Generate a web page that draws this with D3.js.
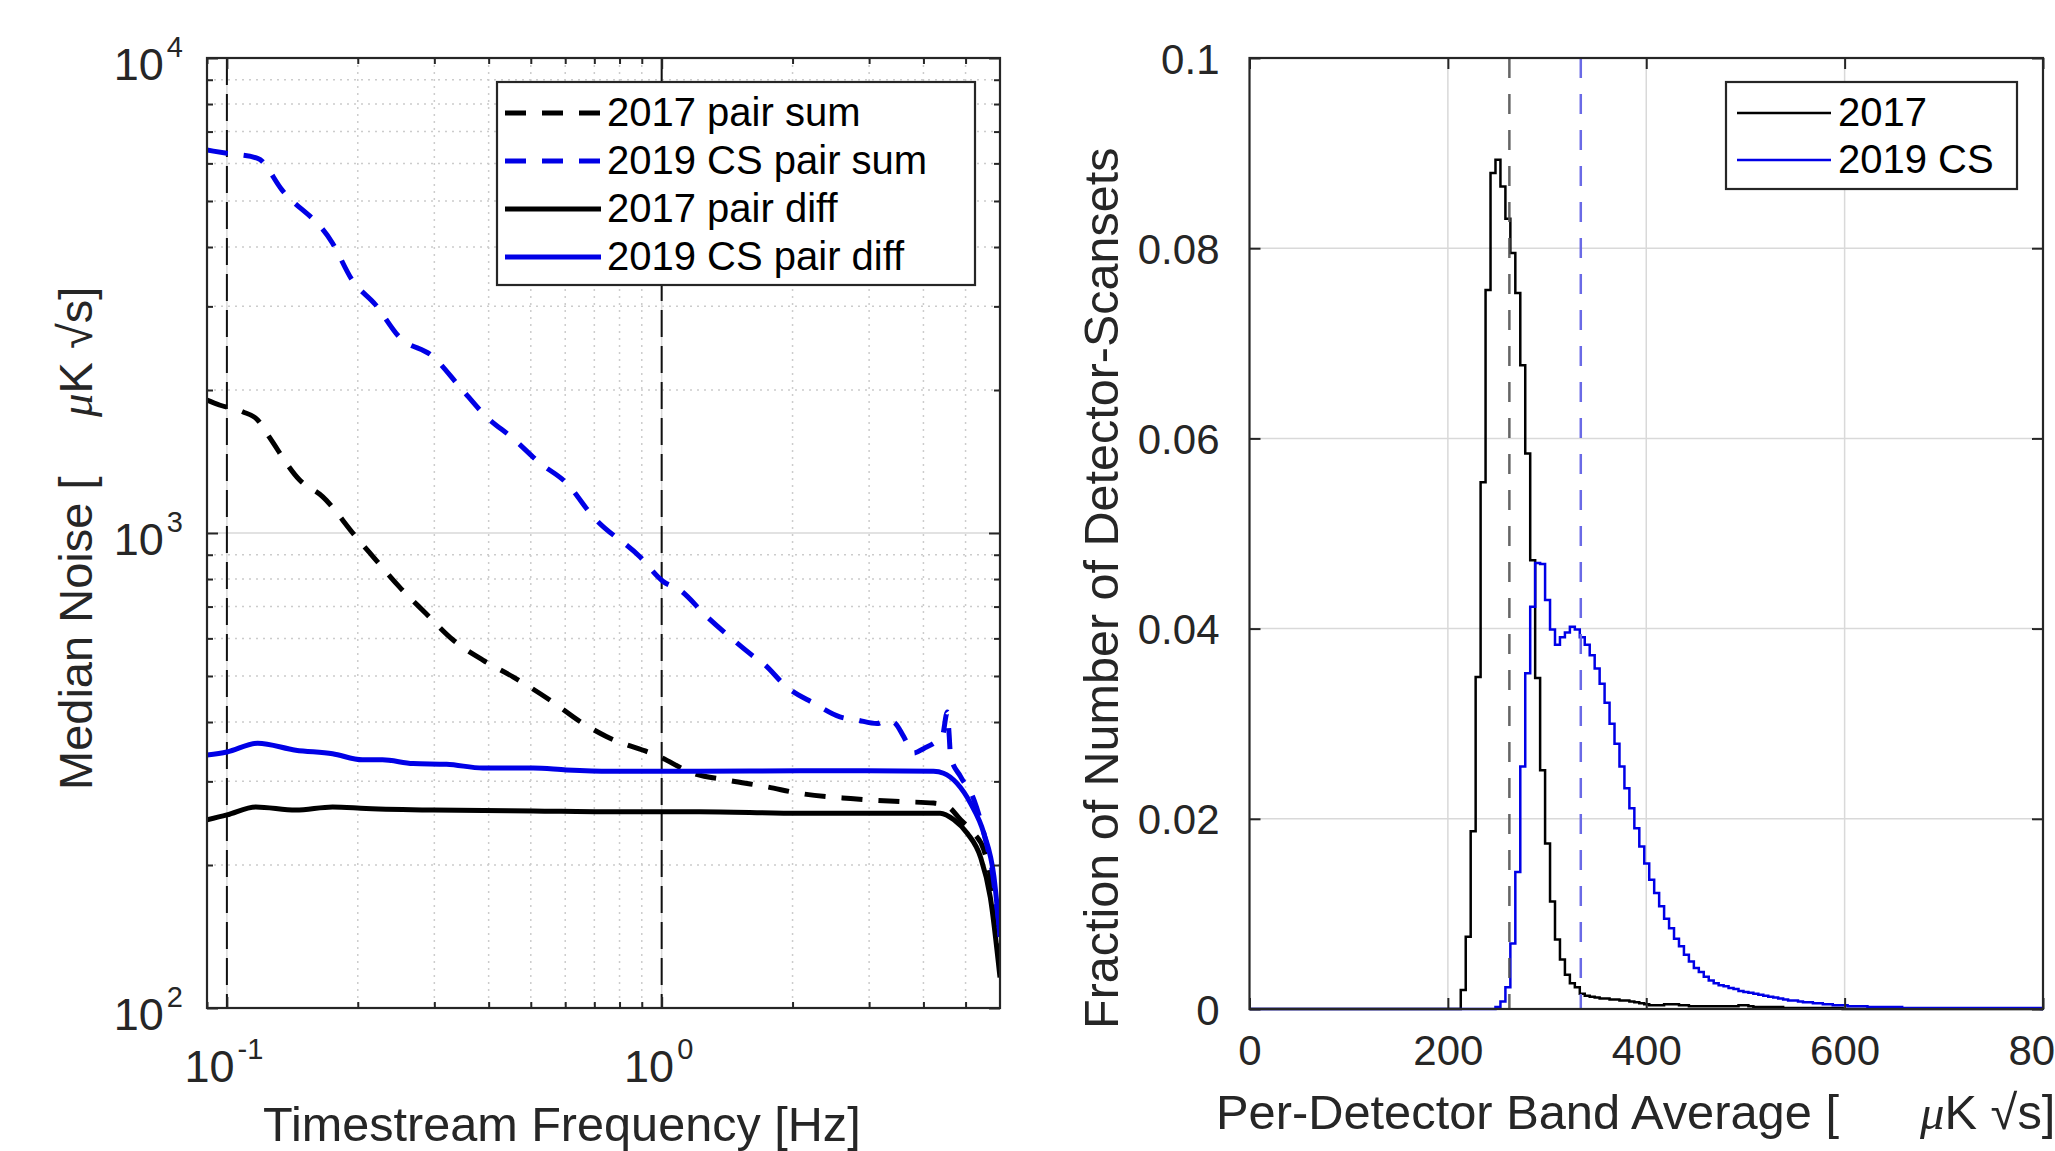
<!DOCTYPE html>
<html><head><meta charset="utf-8">
<script src="https://cdn.jsdelivr.net/npm/d3@7"></script>
<style>
body{margin:0;background:#fff}
svg{display:block}
text{font-family:"Liberation Sans",Arial,Helvetica,sans-serif}
</style>
</head><body>
<script>
// ---------------- DATA: left panel (median noise spectra) ----------------
const freqDomain = [0.09, 6];
const noiseDomain = [100, 10000];
const freqMarkers = [0.1, 1];

const sum2017Freq  = [0.09,0.0961,0.1087,0.1177,0.125,0.147,0.166,0.198,0.217,0.249,0.287,0.331,0.388,0.455,0.553,0.66,0.746,0.99,1.18,1.41,1.75,2.08,2.72,3.54,4.22,4.54,4.87,5.23,5.51,5.81,5.97];
const sum2017Noise = [1905,1860,1800,1730,1595,1293,1193,982,891,771,677,596,540,498,445,397,373,338,312,302,292,283,276,272,270,266,249,233,215,169,132];

const sum2019Freq  = [0.09,0.1,0.1177,0.134,0.175,0.194,0.22,0.249,0.298,0.343,0.395,0.455,0.525,0.604,0.696,0.891,1.009,1.1,1.27,1.46,1.63,1.71,1.94,2.24,2.57,2.81,3.13,3.3,3.45,3.6,3.8,4.01,4.23,4.42,4.54,4.58,4.62,4.87,5.23,5.51,5.81,5.97];
const sum2019Noise = [6400,6300,6150,5270,4075,3412,3020,2588,2350,2033,1758,1582,1403,1274,1082,891,790,759,667,596,549,532,474,438,410,404,397,404,397,373,344,352,361,373,420,380,338,307,274,233,183,144];

const diff2017Freq  = [0.09,0.1,0.1166,0.144,0.175,0.209,0.298,0.506,0.76,1.22,2.08,3.54,4.37,4.7,5.05,5.41,5.7,6.0];
const diff2017Noise = [249,255,265,261,265,263,261,260,259,259,257,257,257,249,233,208,171,116];

const diff2019Freq  = [0.09,0.1,0.1177,0.144,0.175,0.205,0.228,0.268,0.32,0.388,0.506,0.604,0.76,1.22,2.08,2.97,4.22,4.45,4.78,5.13,5.51,5.81,6.0];
const diff2019Noise = [341,346,361,349,343,333,333,327,326,320,320,317,315,315,316,316,315,312,297,270,233,189,141];

const leftLegend = ["2017 pair sum","2019 CS pair sum","2017 pair diff","2019 CS pair diff"];

// ---------------- DATA: right panel (histograms) ----------------
const histRange = [0, 800];
const fracDomain = [0, 0.1];
const histXTicks = [0, 200, 400, 600, 800];
const histYTicks = [0, 0.02, 0.04, 0.06, 0.08, 0.1];
const binWidth = 5;
const hist2017Start = 213;
const hist2017 = [0.0020,0.0076,0.0187,0.0349,0.0554,0.0756,0.0879,0.0893,0.0865,0.0831,0.0795,0.0753,0.0677,0.0584,0.0472,0.0348,0.0251,0.0174,0.0113,0.0073,0.0052,0.0036,0.0027,0.0023,0.0016,0.0014,0.0013,0.0012,0.0011,0.0011,0.0010,0.0010,0.0009,0.0009,0.0008,0.0007,0.0006,0.0005,0.0004,0.0004,0.0004,0.0005,0.0005,0.0005,0.0004,0.0004,0.0003,0.0003,0.0003,0.0003,0.0003,0.0003,0.0003,0.0003,0.0003,0.0003,0.0004,0.0004,0.0003,0.0002,0.0002,0.0002,0.0002,0.0002,0.0002,0.0001,0.0001,0.0001,0.0001,0.0001,0.0001,0.0001,0.0001,0.0001,0.0001,0.0001,0.0001];
const hist2019Start = 248;
const hist2019 = [0.0002,0.0008,0.0023,0.0069,0.0144,0.0255,0.0353,0.0423,0.0469,0.0468,0.0430,0.0399,0.0383,0.0391,0.0396,0.0402,0.0399,0.0391,0.0383,0.0372,0.0358,0.0342,0.0322,0.0300,0.0279,0.0255,0.0232,0.0211,0.0190,0.0171,0.0153,0.0136,0.0122,0.0108,0.0095,0.0085,0.0074,0.0066,0.0057,0.0050,0.0043,0.0039,0.0034,0.0030,0.0027,0.0025,0.0024,0.0022,0.0021,0.0019,0.0018,0.0017,0.0016,0.0015,0.0014,0.0013,0.0012,0.0011,0.0010,0.0009,0.0009,0.0008,0.0007,0.0007,0.0006,0.0006,0.0005,0.0005,0.0004,0.0004,0.0004,0.0003,0.0003,0.0003,0.0003,0.0002,0.0002,0.0002,0.0002,0.0002,0.0002,0.0002,0.0001,0.0001,0.0001,0.0001,0.0001,0.0001,0.0001,0.0001,0.0001,0.0001,0.0001,0.0001,0.0001,0.0001,0.0001,0.0001,0.0001,0.0001,0.0001,0.0001,0.0001,0.0001,0.0001,0.0001,0.0001,0.0001,0.0001,0.0001];
const median2017 = 262;
const median2019 = 334;
const rightLegend = ["2017","2019 CS"];

// ---------------- STYLE ----------------
const W = 2055, H = 1151;
const BLUE = "#0000e6", BLACK = "#000";
const AX = "#262626", GRID = "#d9d9d9", MINOR = "#cccccc";
const TICKFS = 42;

const svg = d3.select("body").append("svg").attr("width", W).attr("height", H);
svg.append("rect").attr("width", W).attr("height", H).attr("fill", "#fff");

// ================= LEFT PANEL =================
const L = {x0: 207, x1: 1000, y0: 58, y1: 1008};
const xL = d3.scaleLog().domain(freqDomain).range([L.x0, L.x1]);
const yL = d3.scaleLog().domain(noiseDomain).range([L.y1, L.y0]);
const isPow = v => Math.abs(Math.log10(v) - Math.round(Math.log10(v))) < 1e-9;
const xTicksAll = xL.ticks();
const yTicksAll = yL.ticks();
const xMajor = xTicksAll.filter(isPow), xMinor = xTicksAll.filter(v => !isPow(v));
const yMajor = yTicksAll.filter(isPow), yMinor = yTicksAll.filter(v => !isPow(v));

const gL = svg.append("g");
// minor grid (dotted)
gL.selectAll(".mgx").data(xMinor.filter(v => xL(v) > L.x0 + 1 && xL(v) < L.x1 - 1)).join("line")
  .attr("x1", d => xL(d)).attr("x2", d => xL(d)).attr("y1", L.y0).attr("y2", L.y1)
  .attr("stroke", MINOR).attr("stroke-width", 1.5).attr("stroke-dasharray", "2,5");
gL.selectAll(".mgy").data(yMinor).join("line")
  .attr("x1", L.x0).attr("x2", L.x1).attr("y1", d => yL(d)).attr("y2", d => yL(d))
  .attr("stroke", MINOR).attr("stroke-width", 1.5).attr("stroke-dasharray", "2,5");
// major grid
gL.selectAll(".Mgx").data(xMajor).join("line")
  .attr("x1", d => xL(d)).attr("x2", d => xL(d)).attr("y1", L.y0).attr("y2", L.y1)
  .attr("stroke", GRID).attr("stroke-width", 1.5);
gL.selectAll(".Mgy").data(yMajor.filter(v => yL(v) > L.y0 + 1 && yL(v) < L.y1 - 1)).join("line")
  .attr("x1", L.x0).attr("x2", L.x1).attr("y1", d => yL(d)).attr("y2", d => yL(d))
  .attr("stroke", GRID).attr("stroke-width", 1.5);

// marker dashed verticals
gL.selectAll(".fm").data(freqMarkers).join("line")
  .attr("x1", d => xL(d)).attr("x2", d => xL(d)).attr("y1", L.y0).attr("y2", L.y1)
  .attr("stroke", "#111").attr("stroke-width", 2).attr("stroke-dasharray", "27,9");

// curves
const clipL = svg.append("clipPath").attr("id", "clipL").append("rect")
  .attr("x", L.x0).attr("y", L.y0).attr("width", L.x1 - L.x0).attr("height", L.y1 - L.y0);
const lineL = d3.line().x(d => xL(d[0])).y(d => yL(d[1])).curve(d3.curveMonotoneX);
const zip = (a, b) => a.map((v, i) => [v, b[i]]);
const seriesL = [
  {pts: zip(sum2017Freq, sum2017Noise), color: BLACK, dash: "21,16"},
  {pts: zip(sum2019Freq, sum2019Noise), color: BLUE, dash: "21,16"},
  {pts: zip(diff2017Freq, diff2017Noise), color: BLACK, dash: null},
  {pts: zip(diff2019Freq, diff2019Noise), color: BLUE, dash: null}
];
const gCurves = gL.append("g").attr("clip-path", "url(#clipL)");
seriesL.forEach(s => {
  gCurves.append("path").attr("d", lineL(s.pts)).attr("fill", "none")
    .attr("stroke", s.color).attr("stroke-width", 5)
    .attr("stroke-linejoin", "round")
    .attr("stroke-dasharray", s.dash);
});

// axes ticks (inward) via d3 axes
function inwardAxes(g, xs, ys, box, xMaj, xMin, yMaj, yMin) {
  const mk = (axisFn, scale, vals, size, tx, ty) => {
    const a = g.append("g").attr("transform", `translate(${tx},${ty})`)
      .call(axisFn(scale).tickValues(vals).tickSize(size).tickSizeOuter(0).tickFormat(""));
    a.select(".domain").remove();
    a.selectAll("line").attr("stroke", AX).attr("stroke-width", 2);
  };
  mk(d3.axisBottom, xs, xMaj, -11, 0, box.y1);
  mk(d3.axisBottom, xs, xMin, -6, 0, box.y1);
  mk(d3.axisTop, xs, xMaj, -11, 0, box.y0);
  mk(d3.axisTop, xs, xMin, -6, 0, box.y0);
  mk(d3.axisLeft, ys, yMaj, -11, box.x0, 0);
  mk(d3.axisLeft, ys, yMin, -6, box.x0, 0);
  mk(d3.axisRight, ys, yMaj, -11, box.x1, 0);
  mk(d3.axisRight, ys, yMin, -6, box.x1, 0);
  g.append("rect").attr("x", box.x0).attr("y", box.y0)
    .attr("width", box.x1 - box.x0).attr("height", box.y1 - box.y0)
    .attr("fill", "none").attr("stroke", AX).attr("stroke-width", 2.2);
}
inwardAxes(gL, xL, yL, L, xMajor, xMinor.filter(v => xL(v) < L.x1 - 1), yMajor, yMinor);

// tick labels 10^n
function powLabel(g, x, y, exp, anchor) {
  const t = g.append("text").attr("x", x).attr("y", y).attr("text-anchor", anchor)
    .attr("fill", AX).attr("font-size", 45);
  t.append("tspan").text("10");
  t.append("tspan").attr("dy", -23).attr("dx", 3).attr("font-size", 29).text(exp);
}
yMajor.forEach(v => powLabel(gL, L.x0 - 24, yL(v) + 22, String(Math.round(Math.log10(v))), "end"));
xMajor.forEach(v => powLabel(gL, xL(v) - 3, L.y1 + 74, String(Math.round(Math.log10(v))), "middle"));

// axis labels
gL.append("text").attr("x", 263).attr("y", 1141).attr("font-size", 48.6).attr("fill", AX)
  .text("Timestream Frequency [Hz]");
gL.append("text").attr("transform", "translate(92,790) rotate(-90)").attr("font-size", 47).attr("fill", AX)
  .text("Median Noise [");
const yl2 = gL.append("text").attr("transform", "translate(92,417) rotate(-90)").attr("font-size", 47).attr("fill", AX);
yl2.append("tspan").attr("font-family", "'Liberation Serif','DejaVu Serif',serif").attr("font-style", "italic").text("μ");
yl2.append("tspan").text("K √s]");

// legend
const lg = gL.append("g");
lg.append("rect").attr("x", 497).attr("y", 82).attr("width", 478).attr("height", 203)
  .attr("fill", "#fff").attr("stroke", AX).attr("stroke-width", 2.2);
leftLegend.forEach((name, i) => {
  const y = 113 + i * 48;
  lg.append("line").attr("x1", 505).attr("x2", 601).attr("y1", y).attr("y2", y)
    .attr("stroke", seriesL[i].color).attr("stroke-width", 5).attr("stroke-dasharray", seriesL[i].dash);
  lg.append("text").attr("x", 607).attr("y", y + 13).attr("font-size", 40).attr("fill", "#000").text(name);
});

// ================= RIGHT PANEL =================
const R = {x0: 1249.5, x1: 2043, y0: 58, y1: 1009};
const xR = d3.scaleLinear().domain(histRange).range([R.x0, R.x1]);
const yR = d3.scaleLinear().domain(fracDomain).range([R.y1, R.y0]);
const gR = svg.append("g");

gR.selectAll(".gx").data(histXTicks.slice(1, -1)).join("line")
  .attr("x1", d => xR(d)).attr("x2", d => xR(d)).attr("y1", R.y0).attr("y2", R.y1)
  .attr("stroke", GRID).attr("stroke-width", 1.5);
gR.selectAll(".gy").data(histYTicks.slice(1, -1)).join("line")
  .attr("x1", R.x0).attr("x2", R.x1).attr("y1", d => yR(d)).attr("y2", d => yR(d))
  .attr("stroke", GRID).attr("stroke-width", 1.5);

function stairs(start, vals) {
  const pts = [[histRange[0], 0], [start, 0]];
  vals.forEach((v, i) => {
    const a = start + i * binWidth;
    pts.push([a, v], [a + binWidth, v]);
  });
  pts.push([start + vals.length * binWidth, 0], [histRange[1], 0]);
  return pts;
}
const lineR = d3.line().x(d => xR(d[0])).y(d => yR(d[1]));
gR.append("path").attr("d", lineR(stairs(hist2017Start, hist2017))).attr("fill", "none")
  .attr("stroke", BLACK).attr("stroke-width", 2.5);
gR.append("path").attr("d", lineR(stairs(hist2019Start, hist2019))).attr("fill", "none")
  .attr("stroke", BLUE).attr("stroke-width", 2.5);

gR.append("line").attr("x1", xR(median2017)).attr("x2", xR(median2017)).attr("y1", R.y0).attr("y2", R.y1)
  .attr("stroke", "#555").attr("stroke-width", 2.5).attr("stroke-dasharray", "20,16").attr("opacity", 0.9);
gR.append("line").attr("x1", xR(median2019)).attr("x2", xR(median2019)).attr("y1", R.y0).attr("y2", R.y1)
  .attr("stroke", "#6a6ae6").attr("stroke-width", 2.5).attr("stroke-dasharray", "20,16");

inwardAxes(gR, xR, yR, R, histXTicks, [], histYTicks, []);

// tick labels via d3 axes
const xa = gR.append("g").attr("transform", `translate(0,${R.y1})`)
  .call(d3.axisBottom(xR).tickValues(histXTicks).tickSize(0).tickPadding(26).tickFormat(d3.format("d")));
xa.select(".domain").remove();
const ya = gR.append("g").attr("transform", `translate(${R.x0},0)`)
  .call(d3.axisLeft(yR).tickValues(histYTicks).tickSize(0).tickPadding(30)
    .tickFormat(d => d === 0 ? "0" : String(+d.toFixed(2))));
ya.select(".domain").remove();
gR.selectAll(".tick text").attr("font-size", TICKFS).attr("fill", AX)
  .attr("font-family", "'Liberation Sans',Arial,sans-serif");
ya.selectAll(".tick text").attr("dy", "0.36em");

// axis labels
gR.append("text").attr("x", 1216).attr("y", 1129).attr("font-size", 48.8).attr("fill", AX)
  .text("Per-Detector Band Average [");
const xl2 = gR.append("text").attr("x", 1920).attr("y", 1129).attr("font-size", 48.8).attr("fill", AX);
xl2.append("tspan").attr("font-family", "'Liberation Serif','DejaVu Serif',serif").attr("font-style", "italic").text("μ");
xl2.append("tspan").text("K √s]");
gR.append("text").attr("transform", "translate(1118,1029) rotate(-90)").attr("font-size", 48.5).attr("fill", AX)
  .text("Fraction of Number of Detector-Scansets");

// legend
const rg = gR.append("g");
rg.append("rect").attr("x", 1726).attr("y", 82).attr("width", 291).attr("height", 107)
  .attr("fill", "#fff").attr("stroke", AX).attr("stroke-width", 2.2);
[BLACK, BLUE].forEach((c, i) => {
  const y = 113 + i * 47;
  rg.append("line").attr("x1", 1737).attr("x2", 1831).attr("y1", y).attr("y2", y)
    .attr("stroke", c).attr("stroke-width", 2.5);
  rg.append("text").attr("x", 1838).attr("y", y + 13).attr("font-size", 40).attr("fill", "#000").text(rightLegend[i]);
});
</script>
</body></html>
